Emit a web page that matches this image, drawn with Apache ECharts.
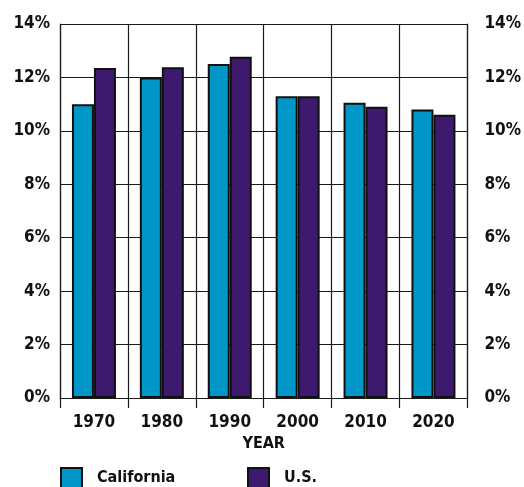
<!DOCTYPE html>
<html>
<head>
<meta charset="utf-8">
<style>
  html, body { margin: 0; padding: 0; background: #fff; }
  #chart { width: 524px; height: 487px; }
</style>
<script src="https://cdn.jsdelivr.net/npm/echarts@6/dist/echarts.min.js"></script>
</head>
<body>
<div id="chart"></div>
<script>
const years = ['1970', '1980', '1990', '2000', '2010', '2020']
const california = [11.0, 12.0, 12.5, 11.3, 11.05, 10.8]
const us = [12.35, 12.38, 12.77, 11.3, 10.9, 10.6]

const font = '"Liberation Sans Narrow", "DejaVu Sans Condensed", sans-serif'
const lineColor = '#1a1a1a'

const chart = echarts.init(document.getElementById('chart'))

const labelStyle = {
  fontFamily: font,
  fontWeight: 'bold',
  fontSize: 17,
  color: '#111'
}

// one legend per item so the boxes sit where the original has them
const legendBase = {
  top: 467,
  padding: 0,
  itemWidth: 21,
  itemHeight: 20,
  icon: 'rect',
  textStyle: { ...labelStyle, fontSize: 16, padding: [0, 0, 0, 10] }
}

const option = {
  animation: false,
  grid: { left: 60, right: 54, top: 24, bottom: 89 },
  legend: [
    { ...legendBase, data: ['California'], left: 60 },
    { ...legendBase, data: ['U.S.'], left: 247 }
  ],
  xAxis: {
    type: 'category',
    data: years,
    name: 'YEAR',
    nameLocation: 'middle',
    nameGap: 38,
    nameTextStyle: { ...labelStyle, fontSize: 16 },
    axisLine: { show: true, lineStyle: { color: lineColor, width: 1.2 } },
    axisTick: { show: true, length: 10, lineStyle: { color: lineColor, width: 1.2 } },
    axisLabel: { ...labelStyle, margin: 16 },
    splitLine: { show: true, lineStyle: { color: lineColor, width: 1.2 } }
  },
  yAxis: [
    {
      type: 'value',
      min: 0,
      max: 14,
      interval: 2,
      axisLine: { show: true, lineStyle: { color: lineColor, width: 1.2 } },
      axisTick: { show: false },
      axisLabel: { ...labelStyle, margin: 10, formatter: '{value}%' },
      splitLine: { show: true, lineStyle: { color: lineColor, width: 1.2 } }
    },
    {
      type: 'value',
      position: 'right',
      min: 0,
      max: 14,
      interval: 2,
      axisLine: { show: true, lineStyle: { color: lineColor, width: 1.2 } },
      axisTick: { show: false },
      axisLabel: { ...labelStyle, margin: 17, formatter: '{value}%' },
      splitLine: { show: false }
    }
  ],
  series: [
    {
      name: 'California',
      type: 'bar',
      data: california,
      barWidth: 22,
      barGap: '0%',
      itemStyle: { color: '#0096c8', borderColor: '#111', borderWidth: 2 }
    },
    {
      name: 'U.S.',
      type: 'bar',
      data: us,
      barWidth: 22,
      barGap: '0%',
      itemStyle: { color: '#3d1a6e', borderColor: '#111', borderWidth: 2 }
    }
  ]
}

chart.setOption(option)
</script>
</body>
</html>
